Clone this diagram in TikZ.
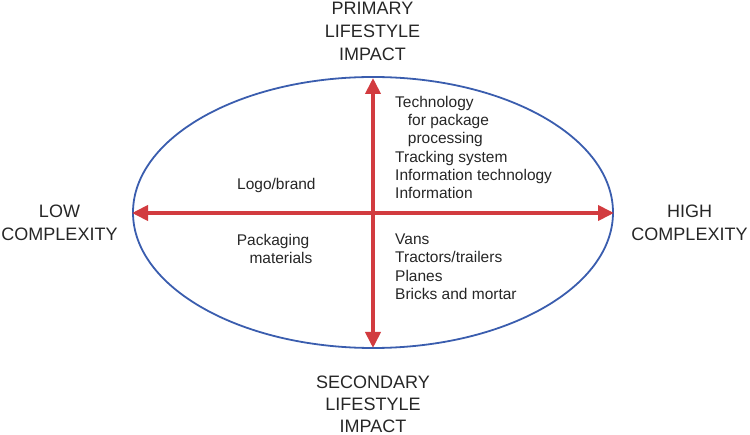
\documentclass[tikz,border=0pt]{standalone}
\usepackage{fontspec}
\setmainfont{Liberation Sans}
\usetikzlibrary{arrows.meta,shapes.geometric}
\definecolor{ellblue}{HTML}{3A5DAE}
\definecolor{arrred}{HTML}{D23B3F}
\definecolor{txt}{HTML}{262626}
\begin{document}
\begin{tikzpicture}[x=1pt,y=-1pt,
  axis/.style={draw=arrred,line width=3.8pt,-{Triangle[length=16pt,width=15pt]}},
  lbl/.style={text=txt,font=\fontsize{18}{23}\selectfont,align=center,inner sep=0pt},
  itm/.style={text=txt,font=\fontsize{15.5}{18.3}\selectfont,align=left,inner sep=0pt,anchor=north west}]
\useasboundingbox (0,0) rectangle (750,435);
\node[draw=ellblue,line width=1.8pt,ellipse,minimum width=480pt,minimum height=271pt,inner sep=0pt] (ell) at (373,212.5) {};
\coordinate (c) at (373,213);
\coordinate (top) at (373,78);
\coordinate (bot) at (373,348);
\coordinate (lft) at (132,213);
\coordinate (rgt) at (614,213);
\draw[axis] (c) -- (top);
\draw[axis] (c) -- (bot);
\draw[axis] (c) -- (lft);
\draw[axis] (c) -- (rgt);
\node[lbl,anchor=north] (prim) at (372.5,1.5) {PRIMARY\\LIFESTYLE\\IMPACT};
\node[lbl,anchor=south,font=\fontsize{18}{22}\selectfont] (sec) at (373,432.5) {SECONDARY\\LIFESTYLE\\IMPACT};
\node[lbl,anchor=north] (low) at (59.5,205) {LOW\\COMPLEXITY};
\node[lbl,anchor=north] (high) at (689.5,205) {HIGH\\COMPLEXITY};
\node[itm] (logo) at (237,177.7) {Logo/brand};
\node[itm] (tech) at (395,95.7) {Technology\\\hspace{12.7pt}for package\\\hspace{12.7pt}processing\\Tracking system\\Information technology\\Information};
\node[itm] (pack) at (236.7,233.7) {Packaging\\\hspace{12.6pt}materials};
\node[itm] (vans) at (395,233.7) {Vans\\Tractors/trailers\\Planes\\Bricks and mortar};
\end{tikzpicture}
\end{document}
